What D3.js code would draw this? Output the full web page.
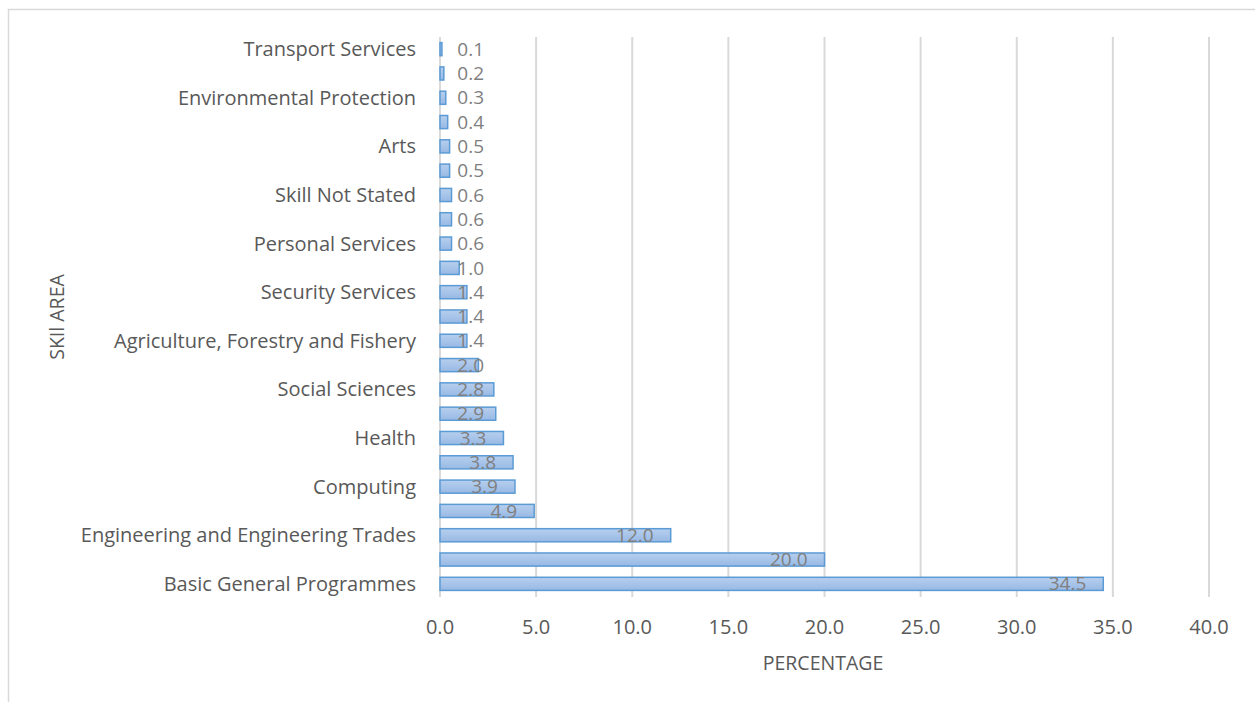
<!DOCTYPE html>
<html>
<head>
<meta charset="utf-8">
<script src="https://cdn.jsdelivr.net/npm/d3@7"></script>
<style>
  body { margin: 0; background: #fff; }
  svg text { font-family: "Open Sans", "Liberation Sans", sans-serif; fill: #595959; }
</style>
</head>
<body>
<svg id="chart" width="1255" height="702"></svg>
<script>
// categories listed top to bottom; only every other label is printed in the original
var skillAreas = [
	'Transport Services', 'Journalism and Information', 'Environmental Protection', 'Veterinary',
	'Arts', 'Humanities', 'Skill Not Stated', 'Languages',
	'Personal Services', 'Architecture and Construction', 'Security Services', 'Manufacturing and Processing',
	'Agriculture, Forestry and Fishery', 'Mathematics and Statistics', 'Social Sciences', 'Physical Sciences',
	'Health', 'Education', 'Computing', 'Life Sciences',
	'Engineering and Engineering Trades', 'Business and Administration', 'Basic General Programmes'
];
var percentages = [0.1, 0.2, 0.3, 0.4, 0.5, 0.5, 0.6, 0.6, 0.6, 1.0, 1.4, 1.4, 1.4, 2.0, 2.8, 2.9, 3.3, 3.8, 3.9, 4.9, 12.0, 20.0, 34.5];
var xTicks = [0, 5, 10, 15, 20, 25, 30, 35, 40];

var svg = d3.select('#chart');

// outer chart border
svg.append('rect')
	.attr('x', 8.5).attr('y', 9.5)
	.attr('width', 1300).attr('height', 800)
	.attr('fill', 'none')
	.attr('stroke', '#d9d9d9')
	.attr('stroke-width', 1.5);

var x = d3.scaleLinear().domain([0, 40]).range([440, 1209]);
var y = d3.scaleBand().domain(skillAreas).range([37, 596]).paddingInner(0.46).paddingOuter(0.23);

var defs = svg.append('defs');
var grad = defs.append('linearGradient')
	.attr('id', 'barFill')
	.attr('x1', 0).attr('y1', 0).attr('x2', 0).attr('y2', 1);
grad.append('stop').attr('offset', '0%').attr('stop-color', '#b7cfee');
grad.append('stop').attr('offset', '100%').attr('stop-color', '#98b9e4');

// vertical gridlines
svg.append('g').selectAll('line')
	.data(xTicks)
	.enter()
	.append('line')
	.attr('x1', function(d){ return x(d); })
	.attr('x2', function(d){ return x(d); })
	.attr('y1', 37)
	.attr('y2', 597)
	.attr('stroke', '#d9d9d9')
	.attr('stroke-width', 2);

// x tick labels
svg.append('g').selectAll('text')
	.data(xTicks)
	.enter()
	.append('text')
	.attr('x', function(d){ return x(d); })
	.attr('y', 634)
	.attr('text-anchor', 'middle')
	.style('font-size', '20px')
	.text(function(d){ return d.toFixed(1); });

// bars
svg.append('g').selectAll('rect')
	.data(percentages)
	.enter()
	.append('rect')
	.attr('x', x(0))
	.attr('y', function(d, i){ return y(skillAreas[i]); })
	.attr('width', function(d){ return x(d) - x(0); })
	.attr('height', y.bandwidth())
	.attr('fill', 'url(#barFill)')
	.attr('stroke', '#5b9bd5')
	.attr('stroke-width', 1.5);

// category labels (every other one)
svg.append('g').selectAll('text')
	.data(skillAreas)
	.enter()
	.append('text')
	.attr('x', 416)
	.attr('y', function(d){ return y(d) + y.bandwidth() / 2; })
	.attr('dy', '0.35em')
	.attr('text-anchor', 'end')
	.style('font-size', '20px')
	.text(function(d, i){ return i % 2 === 0 ? d : ''; });

// value labels, inside end but never left of the axis area
svg.append('g').selectAll('text')
	.data(percentages)
	.enter()
	.append('text')
	.attr('x', function(d){ return Math.max(x(d) - 17, 484); })
	.attr('y', function(d, i){ return y(skillAreas[i]) + y.bandwidth() / 2; })
	.attr('dy', '0.35em')
	.attr('text-anchor', 'end')
	.style('font-size', '19px')
	.style('fill', '#7f7f7f')
	.text(function(d){ return d.toFixed(1); });

// axis titles
svg.append('text')
	.attr('x', 823)
	.attr('y', 670)
	.attr('text-anchor', 'middle')
	.style('font-size', '19.5px')
	.text('PERCENTAGE');

svg.append('text')
	.attr('transform', 'translate(64,317) rotate(-90)')
	.attr('text-anchor', 'middle')
	.style('font-size', '19.5px')
	.text('SKIl AREA');
</script>
</body>
</html>
